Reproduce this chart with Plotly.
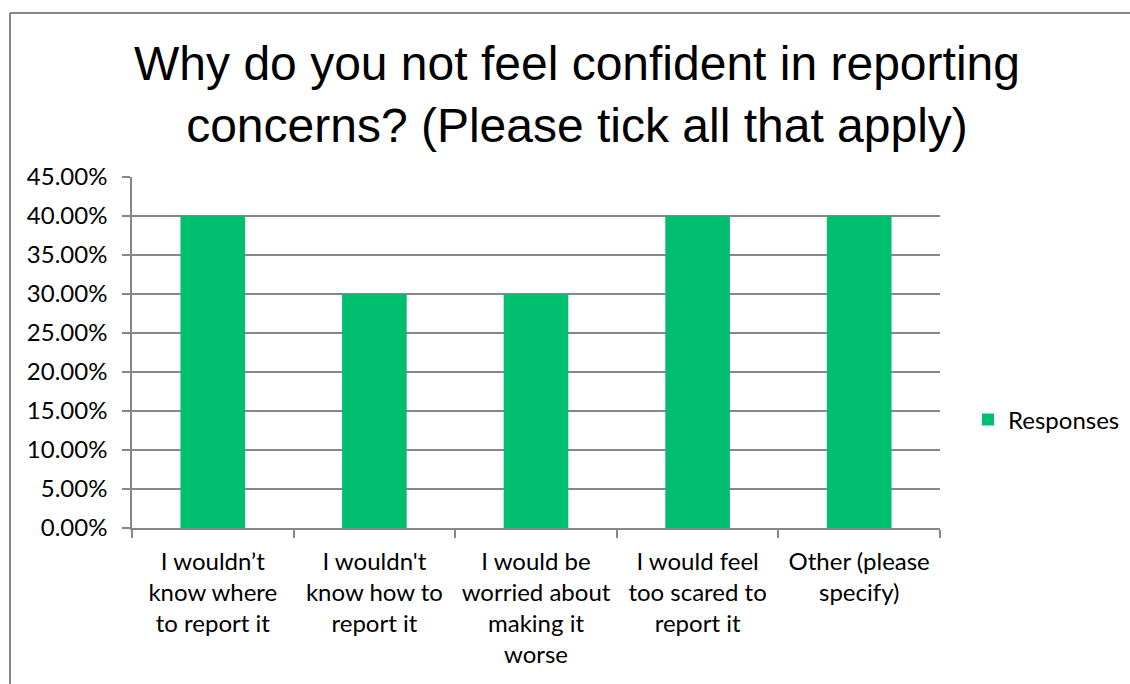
import plotly.graph_objects as go

categories = [
    "I wouldn’t<br>know where<br>to report it",
    "I wouldn't<br>know how to<br>report it",
    "I would be<br>worried about<br>making it<br>worse",
    "I would feel<br>too scared to<br>report it",
    "Other (please<br>specify)",
]
responses = [0.40, 0.30, 0.30, 0.40, 0.40]
series_name = "Responses"
title_text = "Why do you not feel confident in reporting<br>concerns? (Please tick all that apply)"

W, H = 1130, 684
L, R, T, B = 132, 190, 177, 156
plot_w = W - L - R
plot_h = H - T - B

GREEN = "#00BF6F"
GRID = "#878787"
FONT = "Lato, 'Open Sans', sans-serif"
FS = 24

fig = go.Figure()
fig.add_trace(go.Bar(
    x=categories,
    y=responses,
    name=series_name,
    marker=dict(color=GREEN, line=dict(width=0)),
    width=0.4,
    showlegend=True,
))


def px_x(x):
    return (x - L) / plot_w


def px_y(y):
    return (H - B - y) / plot_h


fig.update_layout(
    width=W,
    height=H,
    margin=dict(l=L, r=R, t=T, b=B, autoexpand=False),
    paper_bgcolor="white",
    plot_bgcolor="white",
    font=dict(family=FONT, size=FS, color="#000000"),
    title=dict(
        text=title_text,
        font=dict(family="'Liberation Sans', Arial, sans-serif", size=48, color="#000000"),
        x=577 / W,
        xanchor="center",
        xref="container",
        y=1 - 80 / H,
        yanchor="top",
        yref="container",
    ),
    bargap=0.6,
    xaxis=dict(
        type="category",
        showline=True,
        linecolor=GRID,
        linewidth=1.5,
        ticks="outside",
        tickson="boundaries",
        ticklen=8,
        tickcolor=GRID,
        tickwidth=1.5,
        showgrid=False,
        tickfont=dict(family=FONT, size=FS),
        tickangle=0,
        ticklabelstandoff=11,
    ),
    yaxis=dict(
        range=[0, 0.45],
        dtick=0.05,
        tickformat=".2%",
        showline=True,
        linecolor=GRID,
        linewidth=1.5,
        ticks="outside",
        ticklen=8,
        tickcolor=GRID,
        tickwidth=1.5,
        showgrid=True,
        gridcolor=GRID,
        gridwidth=1.5,
        zeroline=False,
        tickfont=dict(family=FONT, size=FS),
        ticklabelstandoff=10,
    ),
    legend=dict(
        x=px_x(968),
        xanchor="left",
        y=px_y(420),
        yanchor="middle",
        font=dict(family=FONT, size=FS),
        bgcolor="rgba(0,0,0,0)",
    ),
    shapes=[
        dict(type="line", xref="paper", yref="paper",
             x0=px_x(10), x1=px_x(W + 5), y0=px_y(13), y1=px_y(13),
             line=dict(color=GRID, width=2)),
        dict(type="line", xref="paper", yref="paper",
             x0=px_x(10), x1=px_x(10), y0=px_y(13), y1=px_y(H + 5),
             line=dict(color=GRID, width=2)),
    ],
)

fig.write_html("out.html")
